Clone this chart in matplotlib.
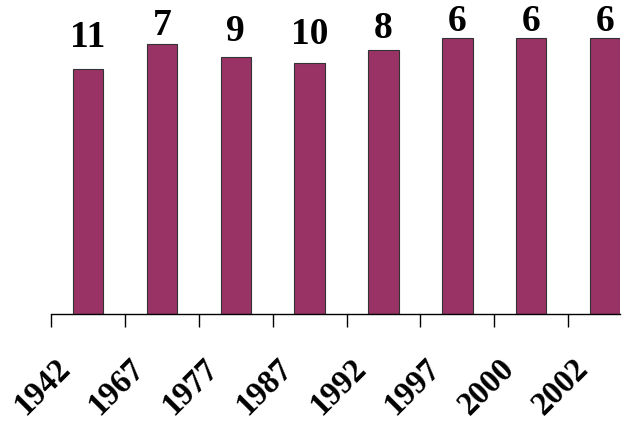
import matplotlib
matplotlib.use("Agg")
import matplotlib.pyplot as plt
import matplotlib.transforms as mtransforms
import numpy as np

years = ["1942", "1967", "1977", "1987", "1992", "1997", "2000", "2002"]
ranks = [11, 7, 9, 10, 8, 6, 6, 6]

AXIS_FLOOR = 50  # ranks are plotted on an inverted scale: rank 0 at the top
SERIF = "Liberation Serif"

fig = plt.figure(figsize=(6.34, 4.26), dpi=100)
ax = fig.add_axes([51 / 634, 1 - 314 / 426, (620 - 51) / 634, 314 / 426])

x = np.arange(len(years))
heights = [r - AXIS_FLOOR for r in ranks]
ax.bar(x, heights, bottom=AXIS_FLOOR, width=0.41, color="#993366",
       edgecolor="#333333", linewidth=0.8, zorder=2)

ax.set_ylim(AXIS_FLOOR, 0)
ax.set_xlim(-0.5, 7.2)

for xi, r in zip(x, ranks):
    ax.text(xi, r / 2 + 2, str(r), ha="center", va="baseline",
            fontsize=27, fontweight="bold", color="black", family=SERIF)

for side in ("top", "right", "left"):
    ax.spines[side].set_visible(False)
ax.spines["bottom"].set_linewidth(1.0)
ax.set_yticks([])

# category labels at bar centres, boundary tick marks as minor ticks
ax.set_xticks(x)
ax.set_xticklabels(years, rotation=45, ha="right", fontsize=23.5,
                   fontweight="bold", family=SERIF)
ax.tick_params(axis="x", which="major", length=0, pad=28)
ax.set_xticks(np.arange(len(years)) - 0.5, minor=True)
ax.tick_params(axis="x", which="minor", length=9, width=1.0, color="black")

offset = mtransforms.ScaledTranslation(-11 / 100, 0, fig.dpi_scale_trans)
for lbl in ax.get_xticklabels():
    lbl.set_transform(lbl.get_transform() + offset)

fig.savefig("out.png", dpi=100)
